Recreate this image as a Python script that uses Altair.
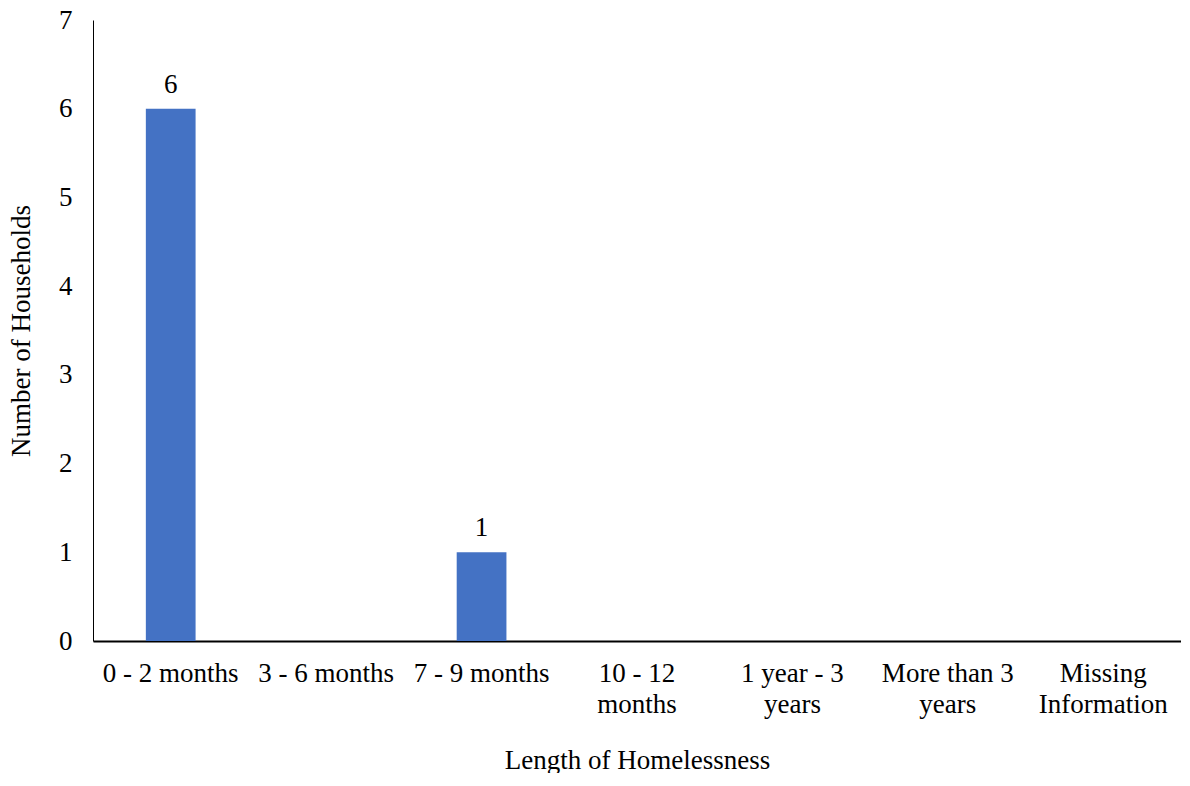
import altair as alt
import pandas as pd

categories = ["0 - 2 months", "3 - 6 months", "7 - 9 months", "10 - 12 months",
              "1 year - 3 years", "More than 3 years", "Missing Information"]
label_lines = ["0 - 2 months", "3 - 6 months", "7 - 9 months", "10 - 12|months",
               "1 year - 3|years", "More than 3|years", "Missing|Information"]
households = [6, 0, 1, 0, 0, 0, 0]

df = pd.DataFrame({"cat": categories, "value": households})

expr = ""
for c, l in zip(categories, label_lines):
    expr += f"datum.value == '{c}' ? split('{l}', '|') : "
expr += "datum.label"

FONT = "Liberation Serif"
FS = 27

base = alt.Chart(df).encode(
    x=alt.X("cat:N", sort=categories, title="Length of Homelessness",
            scale=alt.Scale(paddingInner=0.68, paddingOuter=0.34),
            axis=alt.Axis(labelAngle=0, labelExpr=expr, ticks=False, domainColor="#000000",
                          domainWidth=2, labelFontSize=FS, labelFont=FONT, labelColor="#000000",
                          labelPadding=19, labelLineHeight=31, labelBaseline="top",
                          titleFontSize=FS, titleFont=FONT,
                          titleFontWeight="normal", titleColor="#000000", titlePadding=30,
                          grid=False)),
)

bars = base.mark_bar(color="#4472C4").encode(
    y=alt.Y("value:Q", title="Number of Households",
            scale=alt.Scale(domain=[0, 7]),
            axis=alt.Axis(values=[0, 1, 2, 3, 4, 5, 6, 7], format="d", ticks=False, grid=False,
                          domainColor="#000000", labelFontSize=FS, labelFont=FONT,
                          labelColor="#000000", labelPadding=21, titleFontSize=FS,
                          titleFont=FONT, titleFontWeight="normal", titleColor="#000000",
                          titlePadding=23))
)

text = base.mark_text(baseline="bottom", dy=-10, font=FONT, fontSize=FS, color="#000000").encode(
    y=alt.Y("value:Q"),
    text=alt.Text("value:Q"),
).transform_filter("datum.value > 0")

chart = alt.layer(bars, text).properties(
    width=1088, height=621,
    background="white",
    autosize=alt.AutoSizeParams(type="none"),
    padding={"left": 85, "top": 12, "right": 0, "bottom": 132},
).configure_view(stroke=None).configure_axis(grid=False)

chart.save("out.html", embed_options={"renderer": "svg", "actions": False})
